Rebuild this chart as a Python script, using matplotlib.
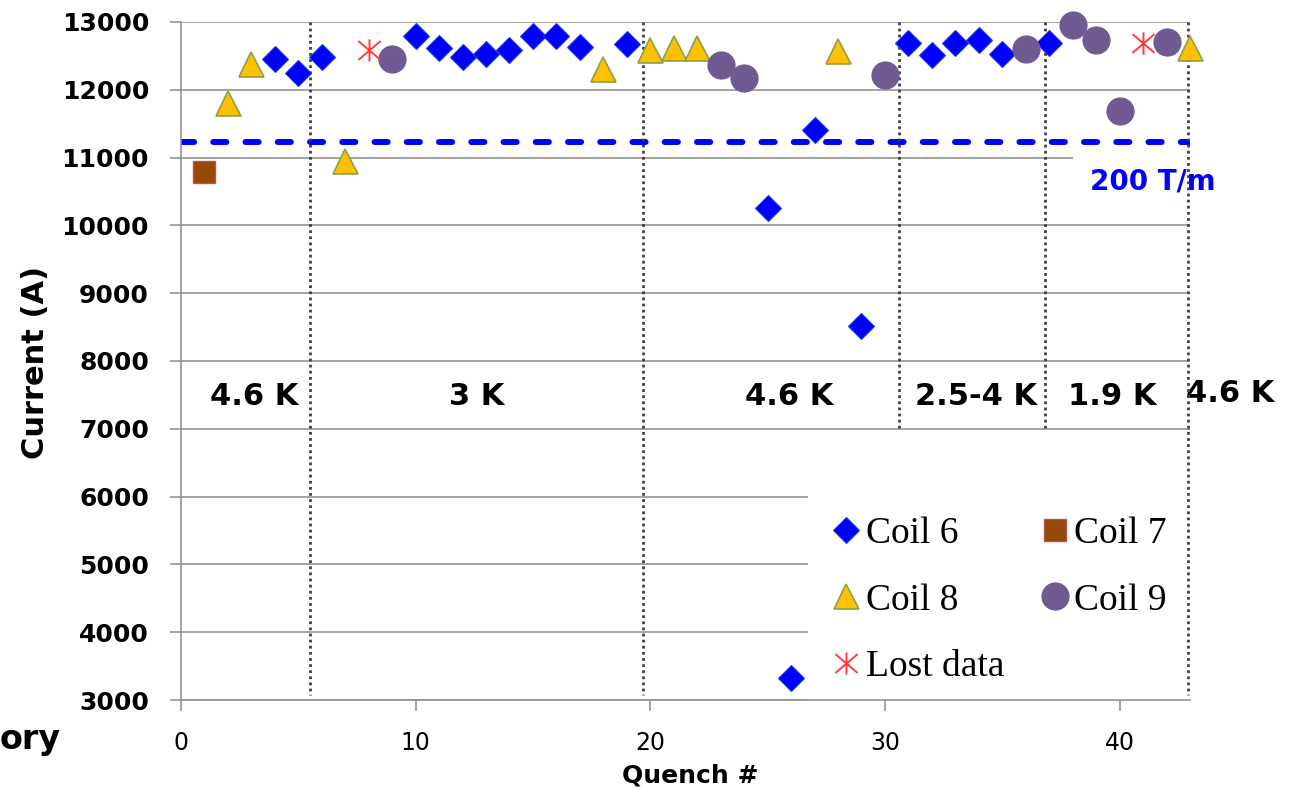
import matplotlib
matplotlib.use('Agg')
import matplotlib.pyplot as plt
from matplotlib.path import Path

# ---------------- data ----------------
coil6_q = [4, 5, 6, 10, 11, 12, 13, 14, 15, 16, 17, 19, 25, 26, 27, 29, 31, 32, 33, 34, 35, 37]
coil6_i = [12450, 12250, 12480, 12790, 12620, 12480, 12530, 12590, 12790, 12790, 12630, 12680,
           10250, 3320, 11400, 8520, 12690, 12510, 12690, 12740, 12530, 12690]
coil7_q = [1]
coil7_i = [10780]
coil8_q = [2, 3, 7, 18, 20, 21, 22, 28, 43]
coil8_i = [11800, 12380, 10950, 12300, 12590, 12620, 12620, 12570, 12620]
coil9_q = [9, 23, 24, 30, 36, 38, 39, 40, 42]
coil9_i = [12460, 12370, 12180, 12220, 12600, 12950, 12740, 11690, 12700]
lost_q = [8, 41]
lost_i = [12590, 12690]

limit_current = 11230            # 200 T/m line
limit_label = '200 T/m'

boundary_q = [5.5, 19.7, 30.6, 36.8, 42.9]
boundary_bottom = [3080, 3080, 7000, 7000, 3080]

temp_labels = ['4.6 K', '3 K', '4.6 K', '2.5-4 K', '1.9 K', '4.6 K']
temp_q = [3.1, 12.6, 25.9, 33.9, 39.7, 44.7]
temp_i = [7470, 7470, 7470, 7470, 7470, 7520]

x_ticks = [0, 10, 20, 30, 40]
y_ticks = list(range(3000, 13001, 1000))

# ---------------- figure ----------------
fig = plt.figure(figsize=(12.89, 7.90), dpi=100)
ax = fig.add_axes([0.1404, 0.1139, 0.7828, 0.8583])
ax.set_xlim(0, 43)
ax.set_ylim(3000, 13000)

grid_c = '#8c8c8c'
ax.set_yticks(y_ticks)
ax.set_xticks(x_ticks)
ax.grid(axis='y', color=grid_c, lw=1.1, zorder=0.5)
ax.set_axisbelow(True)
ax.xaxis.set_zorder(4)
for s in ['top', 'right']:
    ax.spines[s].set_visible(False)
for s in ['left', 'bottom']:
    ax.spines[s].set_color(grid_c)
    ax.spines[s].set_linewidth(1.1)
    ax.spines[s].set_zorder(4)
ax.tick_params(axis='both', direction='out', length=8, width=1.1, color=grid_c)
ax.tick_params(axis='y', pad=15, labelsize=18)
ax.tick_params(axis='x', pad=14, labelsize=17)
for lab in ax.get_yticklabels():
    lab.set_fontweight('bold')
    lab.set_family('DejaVu Sans')
for lab in ax.get_xticklabels():
    lab.set_family('DejaVu Sans')

# 200 T/m dashed line
ax.axhline(limit_current, color='#0000ff', lw=4.3, dashes=(2.2, 3.2),
           dash_capstyle='round', zorder=2)

# region boundaries
for q, b in zip(boundary_q, boundary_bottom):
    ax.plot([q, q], [13000, b], color='#404040', lw=2.0, dashes=(1, 1.2),
            zorder=4, clip_on=False)

# temperature labels
for i, (t, q, y) in enumerate(zip(temp_labels, temp_q, temp_i)):
    kw = {}
    if i == len(temp_labels) - 1:
        kw['bbox'] = dict(facecolor='white', edgecolor='none', pad=11)
    ax.text(q, y, t, ha='center', va='center', fontsize=22, fontweight='bold',
            family='DejaVu Sans', color='black', zorder=3, clip_on=False, **kw)

ax.text(41.4, 10640, limit_label, ha='center', va='center', fontsize=20,
        fontweight='bold', family='DejaVu Sans', color='#0000ff', zorder=3,
        clip_on=False, bbox=dict(facecolor='white', edgecolor='none', pad=12))

# markers
ast = Path([(0, -1), (0, 1), (-1, -0.85), (1, 0.85), (-1, 0.85), (1, -0.85)],
           [Path.MOVETO, Path.LINETO, Path.MOVETO, Path.LINETO, Path.MOVETO, Path.LINETO])

h6, = ax.plot(coil6_q, coil6_i, ls='none', marker='D', ms=13, mfc='#0000ff',
              mec='#1a3adf', mew=0.8, zorder=5, clip_on=False, label='Coil 6')
h7, = ax.plot(coil7_q, coil7_i, ls='none', marker='s', ms=15.5, mfc='#984807',
              mec='#c0504d', mew=1.0, zorder=5, clip_on=False, label='Coil 7')
h8, = ax.plot(coil8_q, coil8_i, ls='none', marker='^', ms=18, mfc='#ffc000',
              mec='#8ea04a', mew=1.2, zorder=5, clip_on=False, label='Coil 8')
h9, = ax.plot(coil9_q, coil9_i, ls='none', marker='o', ms=19.5, mfc='#6f5a92',
              mec='#6f5a92', mew=0.8, zorder=5, clip_on=False, label='Coil 9')
hl, = ax.plot(lost_q, lost_i, ls='none', marker=ast, ms=16, mfc='none',
              mec='#ff3c3c', mew=1.4, zorder=5, clip_on=False, label='Lost data')

leg = ax.legend(handles=[h6, h8, hl, h7, h9], ncol=2, loc='upper left',
                bbox_to_anchor=(808 / 1289, 1 - 493 / 790), bbox_transform=fig.transFigure,
                prop={'family': 'Liberation Serif', 'size': 27}, frameon=True,
                fancybox=False, framealpha=1, facecolor='white', edgecolor='none',
                borderpad=0.62, handlelength=0.8, handletextpad=0.12,
                labelspacing=0.86, columnspacing=0.95, markerscale=1.0,
                borderaxespad=0)
leg.set_zorder(3.5)

# axis labels
fig.text(36 / 1289, 1 - 362 / 790, 'Current (A)', rotation=90, ha='center', va='center',
         fontsize=22, fontweight='bold', family='DejaVu Sans')
fig.text(690 / 1289, 1 - 775 / 790, 'Quench #', ha='center', va='center',
         fontsize=18, fontweight='bold', family='DejaVu Sans')
fig.text(0, 1 - 740 / 790, 'ory', ha='left', va='center', fontsize=24,
         fontweight='bold', family='DejaVu Sans')

fig.savefig('out.png', dpi=100, facecolor='white')
